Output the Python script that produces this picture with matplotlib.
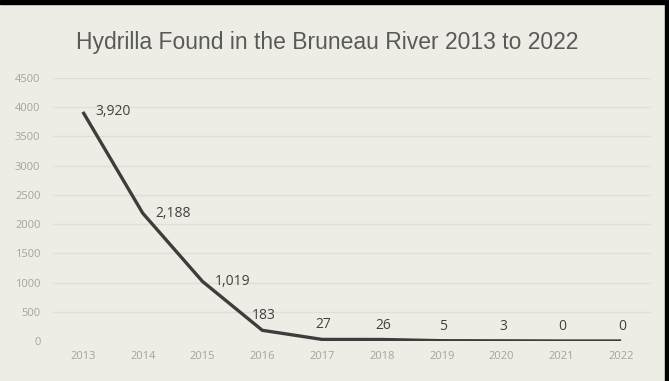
import matplotlib.pyplot as plt
from matplotlib.patches import Rectangle

# ---- Data ----
years = [2013, 2014, 2015, 2016, 2017, 2018, 2019, 2020, 2021, 2022]
hydrilla = [3920, 2188, 1019, 183, 27, 26, 5, 3, 0, 0]
label_pos = ["right", "right", "right", "above", "above", "above", "above", "above", "above", "above"]
y_ticks = [0, 500, 1000, 1500, 2000, 2500, 3000, 3500, 4000, 4500]

bg = "#eeede5"
fig = plt.figure(figsize=(6.69, 3.81), dpi=100, facecolor=bg)
ax = fig.add_axes([53 / 669, 1 - 341 / 381, (651 - 53) / 669, (341 - 78) / 381])
ax.set_facecolor(bg)

ax.plot(years, hydrilla, color="#3d3d3d", linewidth=2.4, solid_capstyle="butt", zorder=3)

for x, y, pos in zip(years, hydrilla, label_pos):
    if pos == "right":
        ax.annotate(f"{y:,}", (x, y), xytext=(9, 0), textcoords="offset points",
                    ha="left", va="center", fontsize=10, color="#404040",
                    family="Open Sans")
    else:
        ax.annotate(f"{y:,}", (x, y), xytext=(1, 5), textcoords="offset points",
                    ha="center", va="bottom", fontsize=10, color="#404040",
                    family="Open Sans")

ax.set_xlim(2012.5, 2022.5)
ax.set_ylim(0, 4500)
ax.set_xticks(years)
ax.set_xticklabels([str(y) for y in years])
ax.set_yticks(y_ticks)
ax.set_yticklabels([str(t) for t in y_ticks])
ax.tick_params(length=0, labelsize=8, labelcolor="#a3a3a0")
for lab in ax.get_xticklabels() + ax.get_yticklabels():
    lab.set_family("Open Sans")
ax.tick_params(axis="y", pad=9)
ax.tick_params(axis="x", pad=7)
ax.grid(axis="y", color="#e0dfd6", linewidth=1)
ax.set_axisbelow(True)
for s in ax.spines.values():
    s.set_visible(False)

fig.text(327 / 669, 1 - 42 / 381, "Hydrilla Found in the Bruneau River 2013 to 2022",
         ha="center", va="center", fontsize=16.5, color="#595959", family="Liberation Sans")

# black frame edges of the screenshot
fig.patches.append(Rectangle((0, 1 - 4 / 381), 1, 4 / 381, transform=fig.transFigure,
                             color="black", zorder=10))
fig.patches.append(Rectangle((1 - 4 / 669, 0), 4 / 669, 1, transform=fig.transFigure,
                             color="black", zorder=10))

plt.savefig("out.png", dpi=100, facecolor=bg)
